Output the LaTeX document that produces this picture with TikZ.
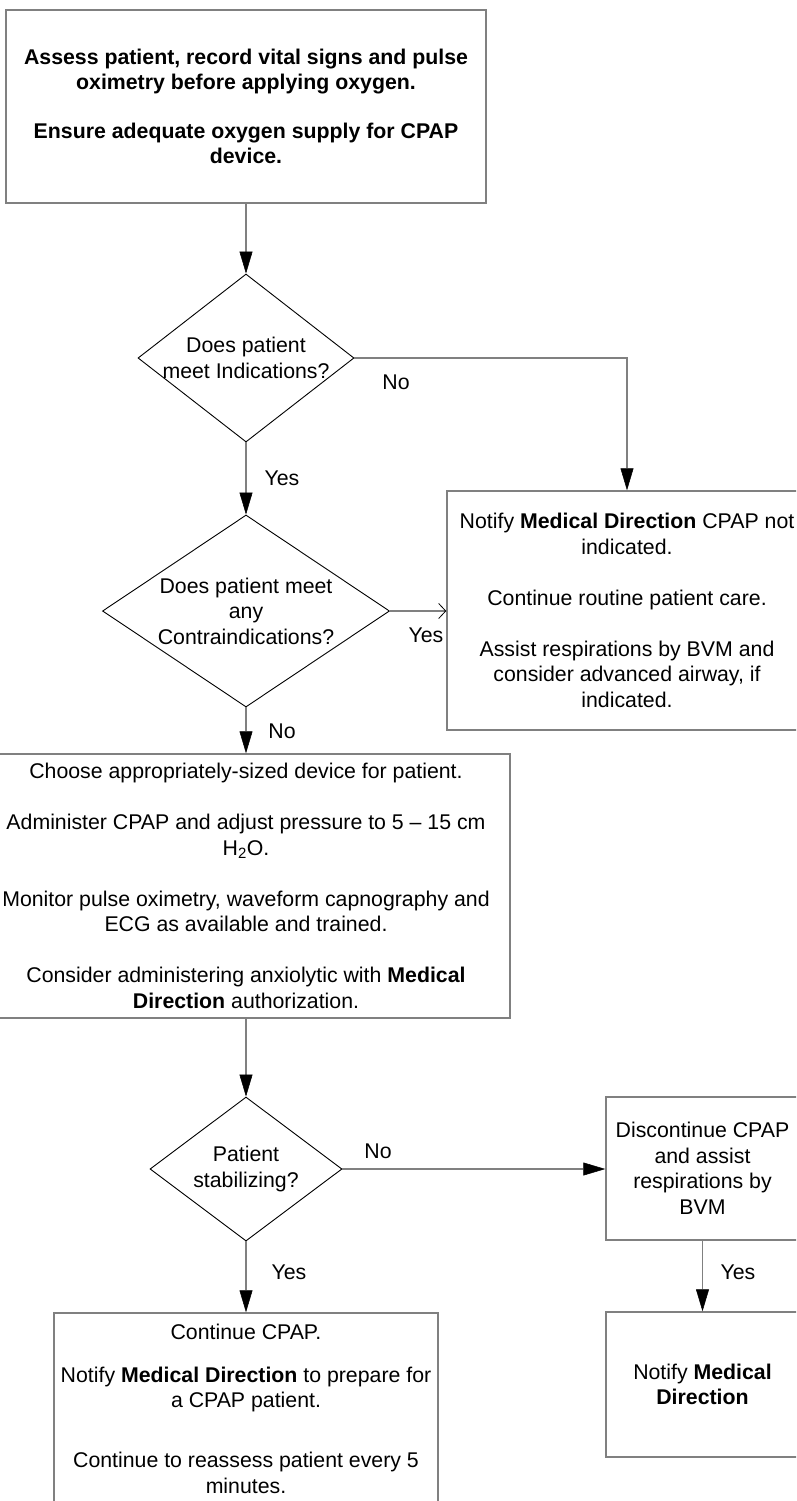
\documentclass[tikz,border=0pt]{standalone}
\usepackage{fontspec}
\setmainfont{Liberation Sans}
\usetikzlibrary{arrows.meta,shapes.geometric}
\definecolor{lineGray}{HTML}{808080}
\definecolor{tipBlack}{HTML}{000000}
\newcommand{\flowsize}{\fontsize{21.3}{25.5}\selectfont}

\begin{document}
\begin{tikzpicture}[x=1pt,y=-1pt,font=\flowsize,
  box/.style={draw=lineGray,line width=1.5pt,align=center,inner sep=0pt},
  dia/.style={draw=black,line width=0.9pt,shape=diamond,inner sep=0pt},
  conn/.style={draw=lineGray,line width=1.5pt,-{Triangle[length=22pt,width=13pt,color=tipBlack,fill=tipBlack,line width=0.5pt]}},
  openconn/.style={draw=lineGray,line width=1.5pt,-{Straight Barb[length=7pt,width=15pt,color=black,line width=0.8pt]}},
  ask/.style={align=center,inner sep=0pt}]
\clip (0,0) rectangle (796,1501);
\fill[white] (0,0) rectangle (796,1501);
% boxes
\node[box,minimum width=480pt,minimum height=193pt,font=\flowsize\bfseries] (assess) at (246,106.5)
  {Assess patient, record vital signs and pulse\\oximetry before applying oxygen.\\[23pt]Ensure adequate oxygen supply for CPAP\\device.};
\node[box,minimum width=360pt,minimum height=239pt] (notind) at (627,610.5)
  {Notify \textbf{Medical Direction} CPAP not\\indicated.\\[25.5pt]Continue routine patient care.\\[25.5pt]Assist respirations by BVM and\\consider advanced airway, if\\indicated.};
\node[box,minimum width=528pt,minimum height=264pt] (device) at (246,886)
  {Choose appropriately-sized device for patient.\\[25.5pt]Administer CPAP and adjust pressure to 5 \textendash{} 15 cm\\H\textsubscript{2}O.\\[25.5pt]Monitor pulse oximetry, waveform capnography and\\ECG as available and trained.\\[25.5pt]Consider administering anxiolytic with \textbf{Medical}\\\textbf{Direction} authorization.};
\node[box,minimum width=193pt,minimum height=143pt] (disc) at (702.5,1168.5)
  {Discontinue CPAP\\and assist\\respirations by\\BVM};
\node[box,minimum width=193pt,minimum height=145pt] (notify) at (702.5,1384.5)
  {Notify \textbf{Medical}\\\textbf{Direction}};
\node[box,minimum width=384pt,minimum height=191pt] (cont) at (246,1408.5)
  {Continue CPAP.\\[17.5pt]Notify \textbf{Medical Direction} to prepare for\\a CPAP patient.\\[34.5pt]Continue to reassess patient every 5\\minutes.};
% decisions
\node[dia,minimum width=216pt,minimum height=168pt] (ind) at (246,358) {};
\node[ask] (indtxt) at (ind) {Does patient\\meet Indications?};
\node[dia,minimum width=287pt,minimum height=192pt] (contra) at (246,611) {};
\node[ask] (contratxt) at (contra) {Does patient meet\\any\\Contraindications?};
\node[dia,minimum width=192pt,minimum height=144pt] (stab) at (246,1169) {};
\node[ask] (stabtxt) at (stab) {Patient\\stabilizing?};
% connectors
\draw[conn] (assess) -- (ind);
\draw[conn] (ind.east) -| (notind.north);
\draw[conn] (ind) -- (contra);
\draw[openconn] (contra.east) -- (contra.east -| notind.west);
\draw[conn] (contra) -- (device);
\draw[conn] (device) -- (stab);
\draw[conn] (stab.east) -- (stab.east -| disc.west);
\draw[conn] (stab) -- (cont);
\draw[conn] (disc) -- (notify);
% branch labels
\node (noind) at (396,382) {No};
\node (yesind) at (282,478) {Yes};
\node (yescontra) at (426,635) {Yes};
\node (nocontra) at (282,731) {No};
\node (nostab) at (378,1151) {No};
\node (yesstab) at (289,1272) {Yes};
\node (yesdisc) at (738,1272) {Yes};
\end{tikzpicture}
\end{document}
